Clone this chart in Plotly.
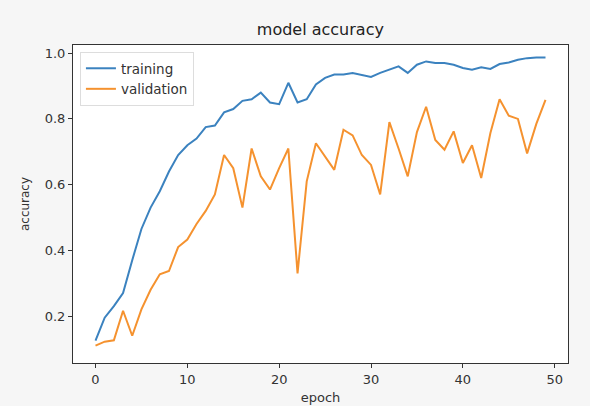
import plotly.graph_objects as go

epochs = list(range(50))
training = [0.125, 0.195, 0.23, 0.27, 0.37, 0.465, 0.53, 0.58, 0.64, 0.69,
            0.72, 0.74, 0.775, 0.78, 0.82, 0.83, 0.855, 0.86, 0.88, 0.85,
            0.845, 0.91, 0.85, 0.86, 0.905, 0.925, 0.935, 0.935, 0.94, 0.935,
            0.928, 0.94, 0.95, 0.96, 0.94, 0.965, 0.975, 0.97, 0.97, 0.965,
            0.955, 0.95, 0.957, 0.952, 0.967, 0.972, 0.98, 0.985, 0.987, 0.987]
validation = [0.11, 0.122, 0.126, 0.216, 0.14, 0.22, 0.28, 0.327, 0.337, 0.41,
              0.433, 0.48, 0.52, 0.57, 0.69, 0.65, 0.53, 0.71, 0.625, 0.585,
              0.65, 0.71, 0.33, 0.61, 0.726, 0.685, 0.645, 0.767, 0.75, 0.69,
              0.66, 0.57, 0.79, 0.71, 0.625, 0.76, 0.837, 0.736, 0.706, 0.762,
              0.666, 0.72, 0.62, 0.757, 0.86, 0.81, 0.80, 0.695, 0.785, 0.858]
x_ticks = [0, 10, 20, 30, 40, 50]
y_ticks = [0.2, 0.4, 0.6, 0.8, 1.0]
y_tick_text = ["0.2", "0.4", "0.6", "0.8", "1.0"]

font = "DejaVu Sans"
fig = go.Figure()
fig.add_trace(go.Scatter(x=epochs, y=training, mode="lines", name="training",
                         line=dict(color="#3b82bf", width=2)))
fig.add_trace(go.Scatter(x=epochs, y=validation, mode="lines", name="validation",
                         line=dict(color="#f5922f", width=2)))

axis_common = dict(showline=True, linecolor="#333333", linewidth=1, mirror=True,
                   ticks="outside", ticklen=4, tickcolor="#333333", showgrid=False,
                   zeroline=False, automargin=False,
                   tickfont=dict(family=font, size=13, color="#333333"))

fig.update_layout(
    width=590, height=406,
    margin=dict(l=73, r=22, t=45, b=43),
    paper_bgcolor="#f6f6f6", plot_bgcolor="white",
    font=dict(family=font, color="#333333"),
    title=dict(text="model accuracy", x=0.543, xanchor="center", y=0.928, yanchor="middle",
               font=dict(family=font, size=16, color="#222222")),
    xaxis=dict(range=[-2.45, 51.45], tickvals=x_ticks,
               title=dict(text="epoch", standoff=7, font=dict(family=font, size=13, color="#333333")),
               **axis_common),
    yaxis=dict(range=[0.057, 1.025], tickvals=y_ticks, ticktext=y_tick_text,
               title=dict(text="accuracy", standoff=12, font=dict(family=font, size=12, color="#333333")),
               **axis_common),
    legend=dict(x=0.014, y=0.978, xanchor="left", yanchor="top",
                bgcolor="rgba(255,255,255,0.9)", bordercolor="#dddddd", borderwidth=1,
                font=dict(family=font, size=13.5, color="#333333"), tracegroupgap=2),
    showlegend=True,
)

fig.write_html("out.html", config={"displayModeBar": False},
               post_script="document.body.style.margin='0';")
